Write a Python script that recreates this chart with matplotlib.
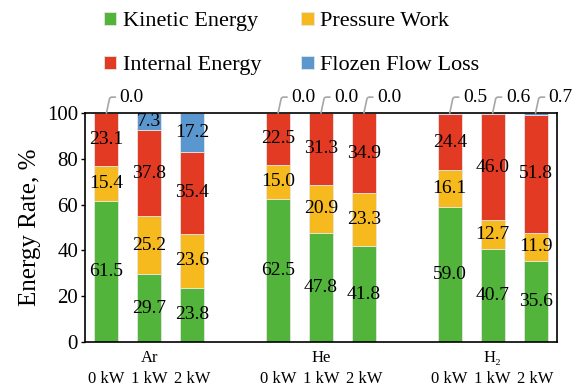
import numpy as np
import matplotlib
matplotlib.use("Agg")
import matplotlib.pyplot as plt
import matplotlib.transforms as mtransforms

plt.rcParams['font.family'] = ['Liberation Serif', 'DejaVu Serif']

# data (percent of input energy)
gases = ["Ar", "He", "H₂"]
powers = ["0 kW", "1 kW", "2 kW"]
kinetic = [61.5, 29.7, 23.8, 62.5, 47.8, 41.8, 59.0, 40.7, 35.6]
pressure = [15.4, 25.2, 23.6, 15.0, 20.9, 23.3, 16.1, 12.7, 11.9]
internal = [23.1, 37.8, 35.4, 22.5, 31.3, 34.9, 24.4, 46.0, 51.8]
frozen = [0.0, 7.3, 17.2, 0.0, 0.0, 0.0, 0.5, 0.6, 0.7]

series = [("Kinetic Energy", kinetic, "#52B43A"),
          ("Pressure Work", pressure, "#F6BA1E"),
          ("Internal Energy", internal, "#E33A24"),
          ("Flozen Flow Loss", frozen, "#5B97CF")]

# bar positions: groups of three with one empty slot between groups
xpos = np.array([g * 4 + i for g in range(len(gases)) for i in range(len(powers))], dtype=float)

fig = plt.figure(figsize=(5.86, 3.90), dpi=100)
ax = fig.add_axes([0.145, 0.123, 0.8055, 0.587])

bottom = np.zeros(len(xpos))
handles = []
for name, vals, col in series:
    vals = np.array(vals)
    b = ax.bar(xpos, vals, 0.56, bottom=bottom, color=col, edgecolor="#e6e6e6",
               linewidth=0.6, label=name, zorder=2)
    handles.append(b)
    for x, v, b0 in zip(xpos, vals, bottom):
        if v >= 5:
            ax.text(x, b0 + v / 2, f"{v:.1f}", ha="center", va="center", fontsize=14, zorder=3)
        else:
            # small values go above the bar with a leader line
            ax.annotate(f"{v:.1f}", xy=(x, b0 + v), xytext=(9.5, 11.5),
                        textcoords="offset points", ha="left", va="center", fontsize=14,
                        annotation_clip=False,
                        arrowprops=dict(arrowstyle="-", color="#a6a6a6", lw=1.2,
                                        shrinkA=1, shrinkB=0,
                                        connectionstyle="angle,angleA=0,angleB=78,rad=2"))
    bottom = bottom + vals

ax.set_xlim(-0.5, 10.5)
ax.set_ylim(0, 100)
ax.set_yticks(range(0, 101, 20))
ax.tick_params(axis="y", labelsize=15, direction="out", length=3, width=1, pad=2)
ax.set_xticks(xpos)
ax.set_xticklabels(powers * len(gases))
ax.tick_params(axis="x", labelsize=12, length=0, pad=21)
for s in ax.spines.values():
    s.set_linewidth(1.2)
ax.set_ylabel("Energy Rate, %", fontsize=18, labelpad=4)

# gas names under each group
trans = mtransforms.blended_transform_factory(ax.transData, ax.transAxes)
for g, gas in enumerate(gases):
    ax.text(g * 4 + 1, -0.07, gas, transform=trans, ha="center", va="center", fontsize=12)

# legend filled row by row
order = [0, 2, 1, 3]
fig.legend(handles=[handles[i] for i in order], loc="upper left", bbox_to_anchor=(0.151, 1.01),
           ncol=2, frameon=False, fontsize=16, handlelength=0.55, handleheight=0.55,
           handletextpad=0.3, columnspacing=1.8, labelspacing=1.1, borderpad=0.2)

fig.savefig("out.png", dpi=100)
